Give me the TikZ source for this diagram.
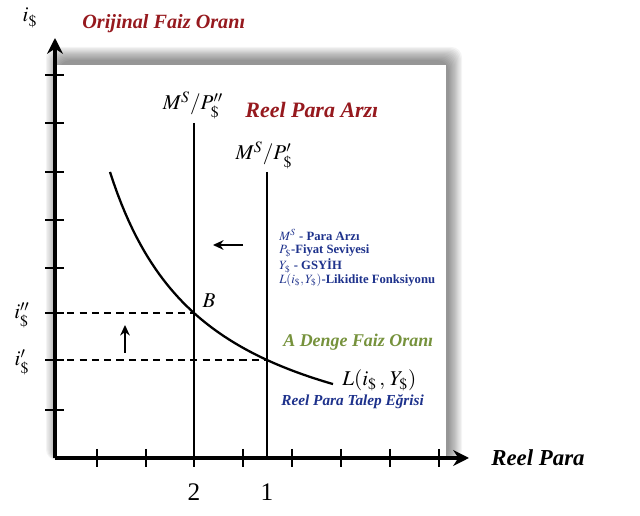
\documentclass[tikz,border=0pt]{standalone}
\usepackage{amsmath,amssymb}
\usepackage{mathptmx}
\usepackage{xcolor}
\usepackage{fontspec}
\setmainfont{Liberation Serif}
\usepackage{tikz}
\usetikzlibrary{arrows.meta,positioning,calc}

\definecolor{titlered}{RGB}{150,25,30}
\definecolor{eqgreen}{RGB}{118,146,60}
\definecolor{noteblue}{RGB}{30,50,140}

\begin{document}
\begin{tikzpicture}[x=0.02cm, y=-0.02cm, >=Stealth,
  axisline/.style={line width=2.4pt, -{Stealth[length=9pt,width=9pt]}},
  tickmark/.style={line width=1.4pt},
  supply/.style={line width=1.3pt},
  guide/.style={line width=0.8pt, dash pattern=on 4pt off 3pt},
  shiftarrow/.style={line width=1.3pt, -{Stealth[length=6pt,width=5.5pt]}},
  redtitle/.style={font=\bfseries\itshape\fontsize{11.5}{13}\selectfont, text=titlered, anchor=west, inner sep=0pt},
  mathlabel/.style={font=\large, inner sep=0pt}]
  \useasboundingbox (0,0) rectangle (640,516);

  % Panel with soft shadow
  \foreach \k in {0,...,11}
    \fill[black, opacity=0.045, rounded corners=6] (46+\k*1.2, 47+\k*1.2) rectangle (462-\k*1.2, 460);
  \fill[white] (56,65) rectangle (446,458);

  % Axes
  \coordinate (O) at (55,458);
  \coordinate (ytip) at (55,38);
  \coordinate (xtip) at (469,458);
  \draw[axisline] (O) -- (ytip);
  \draw[axisline] (O) -- (xtip);
  \foreach \y in {75,123,172,220,268,313,360,410}
    \draw[tickmark] (45,\y) -- (64,\y);
  \foreach \x in {97,146,194,243,292,341,390,439}
    \draw[tickmark] (\x,449) -- (\x,467);

  % Money supply lines
  \coordinate (s2top) at (194,123);
  \coordinate (s2bot) at (194,458);
  \coordinate (s1top) at (267,172);
  \coordinate (s1bot) at (267,458);
  \draw[supply] (s2top) -- (s2bot);
  \draw[supply] (s1top) -- (s1bot);

  % Demand curve
  \draw[supply] plot[domain=110:333, samples=60] (\x, {477-298/((\x-12.3)/100)});

  % Equilibria and rates
  \coordinate (B) at (194,313);
  \coordinate (A) at (267,360);
  \coordinate (ipp) at (55,313);
  \coordinate (ip) at (55,360);
  \draw[guide] (ipp) -- (B);
  \draw[guide] (ip) -- (A);

  % Shift arrows
  \coordinate (upfrom) at (125,353);
  \coordinate (upto) at (125,325);
  \coordinate (leftfrom) at (243,245);
  \coordinate (leftto) at (213,245);
  \draw[shiftarrow] (upfrom) -- (upto);
  \draw[shiftarrow] (leftfrom) -- (leftto);

  % Labels
  \node[mathlabel] (ylab) at (30,18) {$i_{\$}$};
  \node[redtitle] (orig) at (82,24) {Orijinal Faiz Oranı};
  \node[mathlabel] (s2lab) at (193,105) {$M^S/P''_{\$}$};
  \node[redtitle, font=\bfseries\itshape\fontsize{12.5}{14}\selectfont] (arz) at (245,110) {Reel Para Arzı};
  \node[mathlabel] (s1lab) at (264,155) {$M^S/P'_{\$}$};
  \node[font=\bfseries\fontsize{7.2}{7.6}\selectfont, text=noteblue,
        anchor=west, align=left, inner sep=0pt] (legend) at (279,258)
    {$M^S$ - Para Arzı\\ $P_{\$}$-Fiyat Seviyesi\\ $Y_{\$}$ - GSYİH\\ $L(i_{\$},Y_{\$})$-Likidite Fonksiyonu};
  \node[mathlabel] (Blab) at (209,301) {$B$};
  \node[mathlabel] (ipplab) at (22,315) {$i''_{\$}$};
  \node[mathlabel] (iplab) at (22,362) {$i'_{\$}$};
  \node[font=\bfseries\itshape\fontsize{10.2}{12}\selectfont, text=eqgreen, anchor=west, inner sep=0pt] (denge) at (283,342) {A Denge Faiz Oranı};
  \node[mathlabel, anchor=west] (Llab) at (342,380) {$L(i_{\$}\,,\,Y_{\$})$};
  \node[font=\bfseries\itshape\fontsize{8.7}{10}\selectfont, text=noteblue, anchor=west, inner sep=0pt] (talep) at (281,402) {Reel Para Talep Eğrisi};
  \node[font=\bfseries\itshape\fontsize{13}{15}\selectfont, anchor=west, inner sep=0pt] (xlab) at (491,458) {Reel Para};
  \node[font=\Large, inner sep=0pt] (two) at (194,492) {2};
  \node[font=\Large, inner sep=0pt] (one) at (267,492) {1};
\end{tikzpicture}
\end{document}
